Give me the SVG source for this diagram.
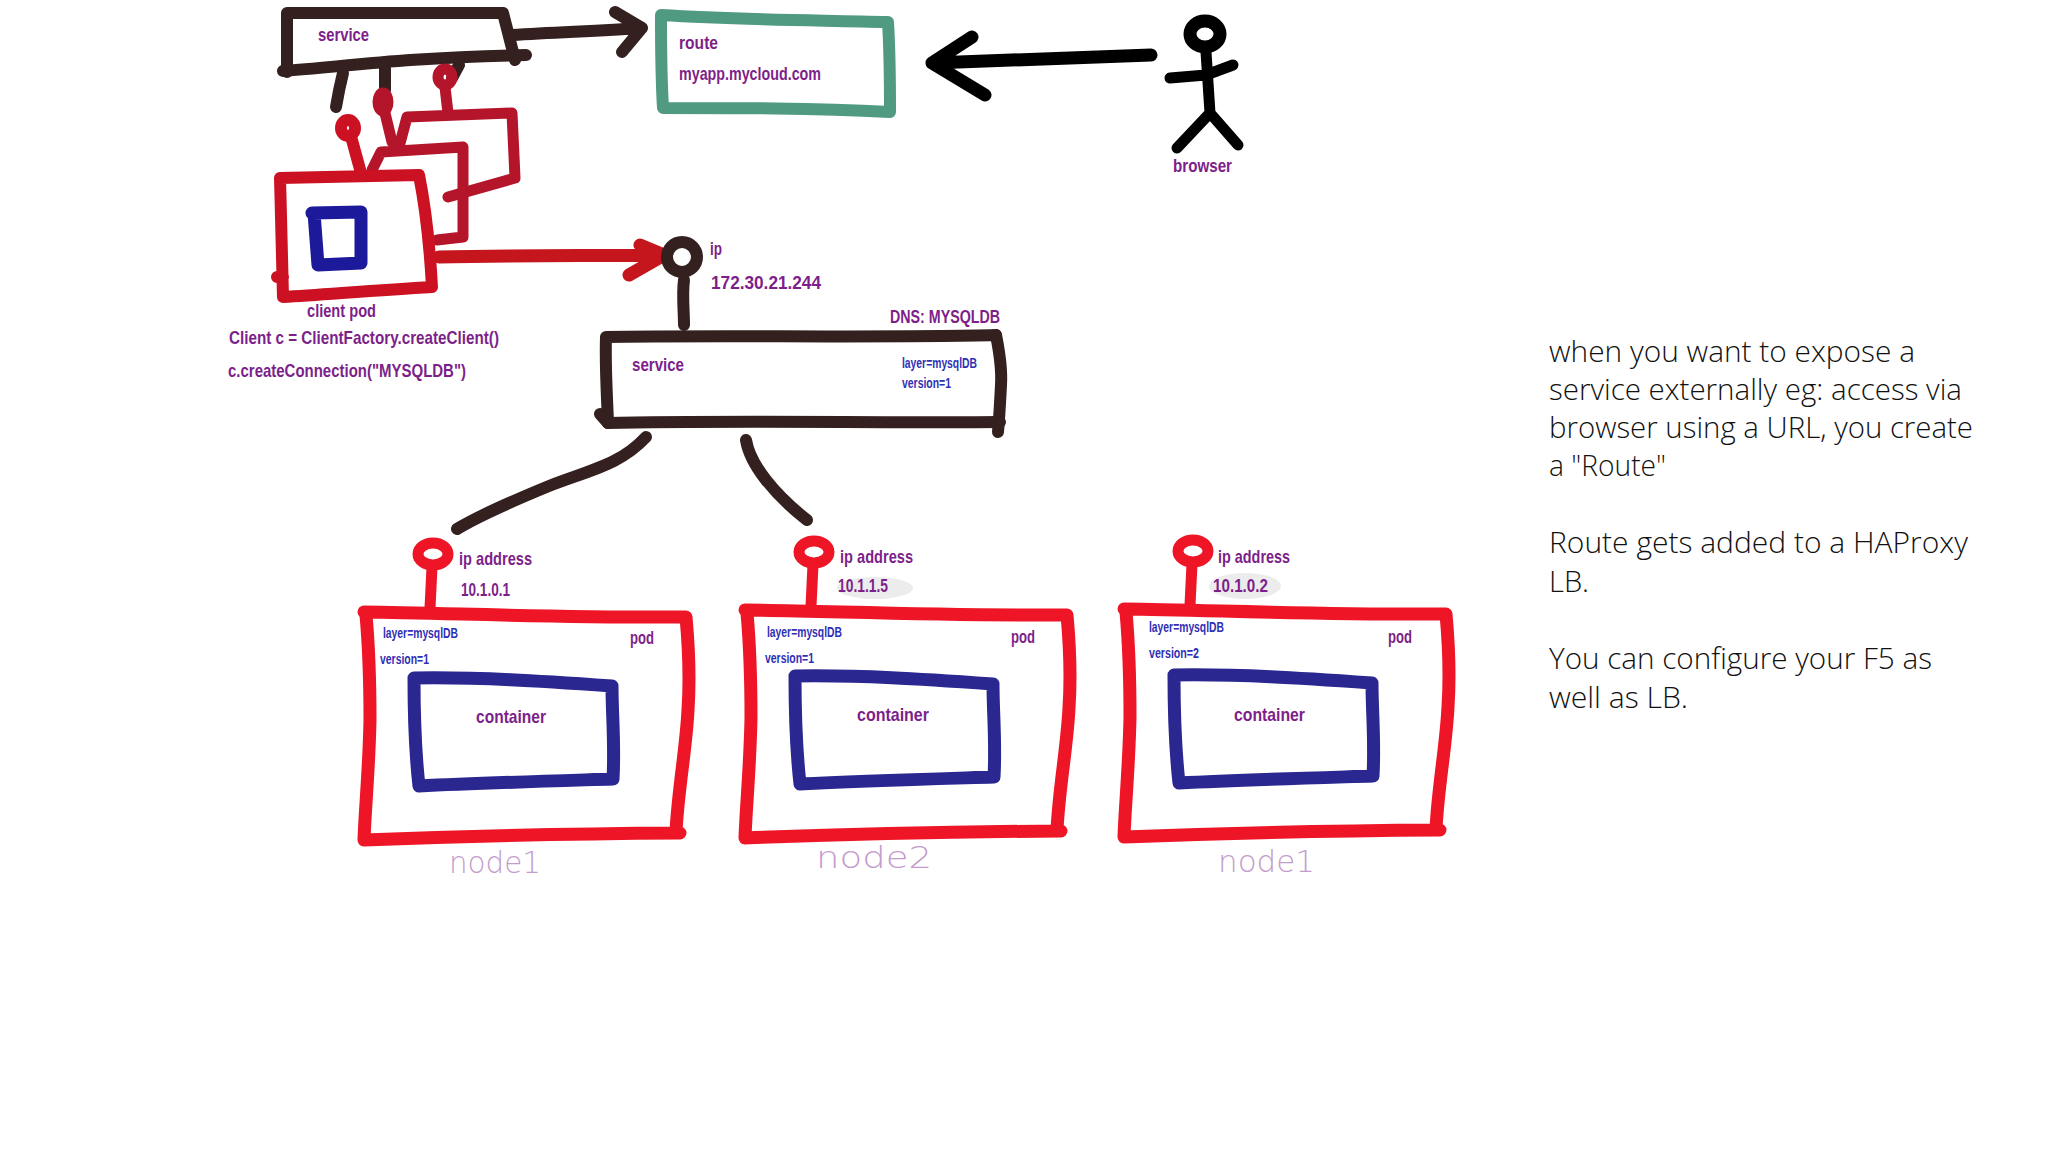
<svg xmlns="http://www.w3.org/2000/svg" width="2048" height="1152" viewBox="0 0 2048 1152">
<style>
.s{fill:none;stroke-linecap:round;stroke-linejoin:round}
.dk{stroke:#33201f;stroke-width:12}
.rd{stroke:#ee1526;stroke-width:13}
.bl{stroke:#2a2790;stroke-width:13}
.t{font-family:"Liberation Sans Narrow","Liberation Sans",sans-serif;font-weight:700;fill:#7d1f8a;font-size:19px}
.l{font-family:"Liberation Sans Narrow","Liberation Sans",sans-serif;font-weight:700;fill:#2f2fb5;font-size:14px}
.n{font-family:"DejaVu Sans",sans-serif;font-weight:200;fill:#c39ccc;font-size:31px}
.h{font-family:"Open Sans",sans-serif;font-weight:300;fill:#111;font-size:30px}
</style>
<rect width="2048" height="1152" fill="#fff"/>
<g id="connectors">
<path class="s dk" d="M512 35C560 32 600 31 642 28M615 12L642 28L622 52"/>
<path class="s dk" d="M343 73C340 85 338 95 336 107M385 68L385 90M459 65L452 78"/>
<path class="s" stroke="#000" stroke-width="13" d="M1151 55C1080 58 1000 60 932 63M972 37L932 63L985 95"/>
<path class="s" stroke="#c4161c" stroke-width="13" d="M439 257C520 255 600 256 664 255M640 245L664 255L629 275"/>
<path class="s dk" d="M646 437C620 465 590 470 549 486C515 500 480 515 457 529"/>
<path class="s dk" d="M746 440C750 465 775 495 807 520"/>
<path class="s dk" d="M684 280C682 295 684 310 684 325"/>
</g>
<g id="service-top">
<path class="s dk" d="M287 72L287 13L503 13L515 60"/>
<path class="s dk" d="M283 71C350 66 400 58 526 55"/>
<text class="t" x="318" y="41" textLength="51" lengthAdjust="spacingAndGlyphs">service</text>
</g>
<g id="route">
<path class="s" stroke="#4f9a80" stroke-width="12" d="M661 15C740 20 810 20 888 22C890 55 890 85 890 112C810 108 740 108 663 108C661 75 661 45 661 15Z"/>
<text class="t" x="679" y="49" textLength="39" lengthAdjust="spacingAndGlyphs">route</text>
<text class="t" x="679" y="80" textLength="142" lengthAdjust="spacingAndGlyphs">myapp.mycloud.com</text>
</g>
<g id="browser">
<ellipse class="s" stroke="#000" stroke-width="13" cx="1205" cy="34" rx="15" ry="13"/>
<path class="s" stroke="#000" stroke-width="11" d="M1206 52L1210 113M1170 78L1206 75L1233 65M1210 113L1177 148M1210 113L1238 145"/>
<text class="t" x="1173" y="172" textLength="59" lengthAdjust="spacingAndGlyphs">browser</text>
</g>
<g id="client-pods">
<g stroke="#b5152a" stroke-width="11">
<ellipse class="s" cx="445" cy="77" rx="7" ry="8"/>
<path class="s" d="M445 87L448 113M407 117L512 113L515 178L448 197M407 117L399 147"/>
<ellipse class="s" cx="383" cy="102" rx="5" ry="9"/>
<path class="s" d="M385 113L392 142M372 170L381 152L463 147L463 237L437 240"/>
</g>
<g stroke="#cc1122" stroke-width="12">
<ellipse class="s" cx="348" cy="128" rx="7" ry="8"/>
<path class="s" d="M352 140L361 173M280 178L419 175C426 210 430 250 432 287C380 290 330 294 283 297C282 250 281 215 280 178ZM277 277L283 277"/>
</g>
<path class="s" stroke="#1c1a9a" stroke-width="13" d="M312 213L361 212L361 263L318 265L314 213"/>
<text class="t" x="307" y="317" textLength="69" lengthAdjust="spacingAndGlyphs">client pod</text>
<text class="t" x="229" y="344" textLength="270" lengthAdjust="spacingAndGlyphs">Client c = ClientFactory.createClient()</text>
<text class="t" x="228" y="377" textLength="238" lengthAdjust="spacingAndGlyphs">c.createConnection("MYSQLDB")</text>
</g>
<g id="service-ip">
<ellipse class="s dk" cx="682" cy="257" rx="15" ry="15" stroke-width="13"/>
<text class="t" x="710" y="255" textLength="12" lengthAdjust="spacingAndGlyphs">ip</text>
<text class="t" x="711" y="289" textLength="110" lengthAdjust="spacingAndGlyphs">172.30.21.244</text>
</g>
<g id="service-mysql">
<path class="s dk" d="M996 335C900 338 700 335 606 337C605 365 607 395 608 423"/>
<path class="s dk" d="M996 335C1000 355 1002 370 1001 385C1000 405 999 420 998 432"/>
<path class="s dk" d="M600 414L608 423C720 420 880 423 1000 422"/>
<text class="t" x="890" y="323" textLength="110" lengthAdjust="spacingAndGlyphs">DNS: MYSQLDB</text>
<text class="t" x="632" y="371" textLength="52" lengthAdjust="spacingAndGlyphs">service</text>
<text class="l" x="902" y="368" textLength="75" lengthAdjust="spacingAndGlyphs">layer=mysqlDB</text>
<text class="l" x="902" y="388" textLength="49" lengthAdjust="spacingAndGlyphs">version=1</text>
</g>
<defs>
<g id="podshape">
<ellipse class="s rd" cx="433" cy="554" rx="15" ry="11" style="stroke-width:11"/>
<path class="s rd" d="M432 567L430 608" style="stroke-width:11"/>
<path class="s rd" d="M364 612C450 613 560 618 686 617C689 650 690 680 688 710C686 750 678 790 676 832M366 615C370 660 370 700 370 720C369 770 365 810 364 840C440 837 520 834 680 833"/>
<path class="s bl" d="M414 678C480 677 540 681 612 686C612 715 615 745 613 779C550 781 480 783 419 786C415 750 414 715 414 678Z"/>
</g>
</defs>
<g id="pod1">
<use href="#podshape"/>
<text class="t" x="459" y="565" textLength="73" lengthAdjust="spacingAndGlyphs">ip address</text>
<text class="t" x="461" y="596" textLength="49" lengthAdjust="spacingAndGlyphs">10.1.0.1</text>
<text class="l" x="383" y="638" textLength="75" lengthAdjust="spacingAndGlyphs">layer=mysqlDB</text>
<text class="l" x="380" y="664" textLength="49" lengthAdjust="spacingAndGlyphs">version=1</text>
<text class="t" x="630" y="644" textLength="24" lengthAdjust="spacingAndGlyphs">pod</text>
<text class="t" x="476" y="723" textLength="70" lengthAdjust="spacingAndGlyphs">container</text>
<text class="n" x="449" y="873" textLength="92" lengthAdjust="spacingAndGlyphs">node1</text>
</g>
<g id="pod2">
<use href="#podshape" transform="translate(381 -2)"/>
<ellipse cx="875" cy="588" rx="38" ry="11" fill="#ececec"/>
<text class="t" x="840" y="563" textLength="73" lengthAdjust="spacingAndGlyphs">ip address</text>
<text class="t" x="838" y="592" textLength="50" lengthAdjust="spacingAndGlyphs">10.1.1.5</text>
<text class="l" x="767" y="637" textLength="75" lengthAdjust="spacingAndGlyphs">layer=mysqlDB</text>
<text class="l" x="765" y="663" textLength="49" lengthAdjust="spacingAndGlyphs">version=1</text>
<text class="t" x="1011" y="643" textLength="24" lengthAdjust="spacingAndGlyphs">pod</text>
<text class="t" x="857" y="721" textLength="72" lengthAdjust="spacingAndGlyphs">container</text>
<text class="n" x="816" y="868" textLength="116" lengthAdjust="spacingAndGlyphs">node2</text>
</g>
<g id="pod3">
<use href="#podshape" transform="translate(760 -3)"/>
<ellipse cx="1245" cy="586" rx="36" ry="13" fill="#ececec"/>
<text class="t" x="1218" y="563" textLength="72" lengthAdjust="spacingAndGlyphs">ip address</text>
<text class="t" x="1213" y="592" textLength="55" lengthAdjust="spacingAndGlyphs">10.1.0.2</text>
<text class="l" x="1149" y="632" textLength="75" lengthAdjust="spacingAndGlyphs">layer=mysqlDB</text>
<text class="l" x="1149" y="658" textLength="50" lengthAdjust="spacingAndGlyphs">version=2</text>
<text class="t" x="1388" y="643" textLength="24" lengthAdjust="spacingAndGlyphs">pod</text>
<text class="t" x="1234" y="721" textLength="71" lengthAdjust="spacingAndGlyphs">container</text>
<text class="n" x="1218" y="872" textLength="97" lengthAdjust="spacingAndGlyphs">node1</text>
</g>
<g id="note">
<text class="h" x="1549" y="362" textLength="366" lengthAdjust="spacingAndGlyphs">when you want to expose a</text>
<text class="h" x="1549" y="400" textLength="413" lengthAdjust="spacingAndGlyphs">service externally eg: access via</text>
<text class="h" x="1549" y="438" textLength="424" lengthAdjust="spacingAndGlyphs">browser using a URL, you create</text>
<text class="h" x="1549" y="476" textLength="117" lengthAdjust="spacingAndGlyphs">a "Route"</text>
<text class="h" x="1549" y="553" textLength="419" lengthAdjust="spacingAndGlyphs">Route gets added to a HAProxy</text>
<text class="h" x="1549" y="592" textLength="40" lengthAdjust="spacingAndGlyphs">LB.</text>
<text class="h" x="1549" y="669" textLength="383" lengthAdjust="spacingAndGlyphs">You can configure your F5 as</text>
<text class="h" x="1549" y="708" textLength="139" lengthAdjust="spacingAndGlyphs">well as LB.</text>
</g>
</svg>
